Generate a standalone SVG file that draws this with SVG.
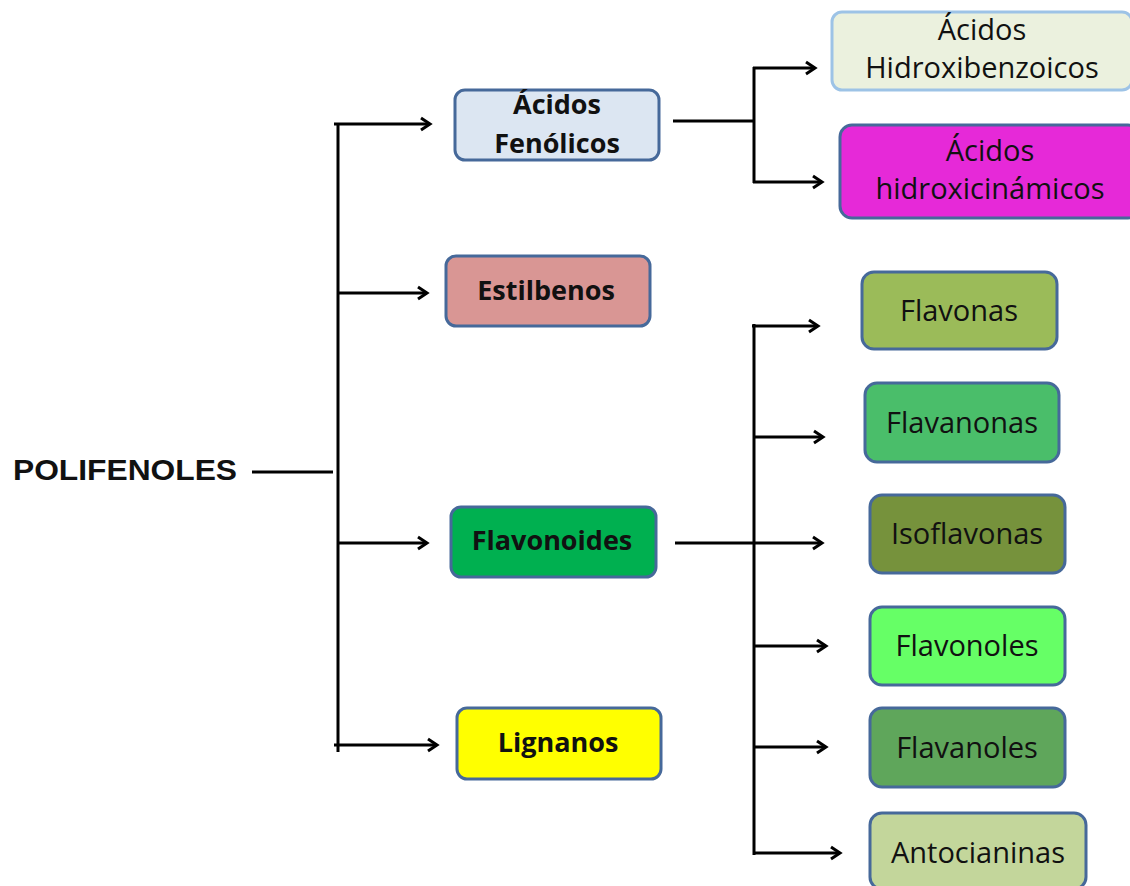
<svg xmlns="http://www.w3.org/2000/svg" width="1130" height="886" viewBox="0 0 1130 886">
<style>
.box{stroke:#46699a;stroke-width:3}
.b{font-family:"Open Sans","Liberation Sans",sans-serif;font-weight:bold;font-size:27px;fill:#111;text-anchor:middle}
.r{font-family:"Open Sans","Liberation Sans",sans-serif;font-size:29px;fill:#111;text-anchor:middle}
.ln{fill:none;stroke:#000;stroke-width:3}
</style>
<defs>
<marker id="arr" markerWidth="14" markerHeight="16" refX="11" refY="8" orient="auto" markerUnits="userSpaceOnUse">
<path d="M2,2 L11,8 L2,14" fill="none" stroke="#000" stroke-width="3"/>
</marker>
</defs>
<rect width="1130" height="886" fill="#fff"/>
<g id="connectors">
<path class="ln" d="M338,123 V752"/>
<path class="ln" d="M252,472 H333"/>
<path class="ln" d="M334,124 H430" marker-end="url(#arr)"/>
<path class="ln" d="M338,293 H427" marker-end="url(#arr)"/>
<path class="ln" d="M338,543 H427" marker-end="url(#arr)"/>
<path class="ln" d="M334,745 H437" marker-end="url(#arr)"/>
<path class="ln" d="M673,121 H754"/>
<path class="ln" d="M754,67 V183"/>
<path class="ln" d="M753,68 H815" marker-end="url(#arr)"/>
<path class="ln" d="M753,182 H822" marker-end="url(#arr)"/>
<path class="ln" d="M675,543 H822" marker-end="url(#arr)"/>
<path class="ln" d="M754,324 V855"/>
<path class="ln" d="M752,326 H818" marker-end="url(#arr)"/>
<path class="ln" d="M754,437 H823" marker-end="url(#arr)"/>
<path class="ln" d="M754,646 H826" marker-end="url(#arr)"/>
<path class="ln" d="M754,747 H826" marker-end="url(#arr)"/>
<path class="ln" d="M754,853 H840" marker-end="url(#arr)"/>
</g>
<g id="polifenoles">
<text x="13" y="480" font-family="Liberation Sans,Arial,sans-serif" font-weight="bold" font-size="30" fill="#111" textLength="224" lengthAdjust="spacingAndGlyphs">POLIFENOLES</text>
</g>
<g id="acidos-fenolicos">
<rect class="box" x="455" y="90" width="204" height="70" rx="10" fill="#dce6f2"/>
<text class="b" x="557" y="114">Ácidos</text>
<text class="b" x="557" y="153">Fenólicos</text>
</g>
<g id="estilbenos">
<rect class="box" x="446" y="256" width="204" height="70" rx="10" fill="#d99694"/>
<text class="b" x="546" y="300">Estilbenos</text>
</g>
<g id="flavonoides">
<rect class="box" x="451" y="507" width="205" height="70" rx="10" fill="#00b050"/>
<text class="b" x="552" y="550">Flavonoides</text>
</g>
<g id="lignanos">
<rect class="box" x="457" y="708" width="204" height="71" rx="10" fill="#ffff00"/>
<text class="b" x="558" y="752">Lignanos</text>
</g>
<g id="acidos-hidroxibenzoicos">
<rect x="832" y="12" width="300" height="78" rx="10" fill="#ebf1de" stroke="#9dc3e6" stroke-width="3"/>
<text class="r" x="982" y="40">Ácidos</text>
<text class="r" x="982" y="78">Hidroxibenzoicos</text>
</g>
<g id="acidos-hidroxicinamicos">
<rect class="box" x="840" y="125" width="300" height="93" rx="12" fill="#e629d8"/>
<text class="r" x="990" y="161">Ácidos</text>
<text class="r" x="990" y="199">hidroxicinámicos</text>
</g>
<g id="flavonas">
<rect class="box" x="862" y="272" width="195" height="77" rx="12" fill="#9bbb59"/>
<text class="r" x="959" y="321">Flavonas</text>
</g>
<g id="flavanonas">
<rect class="box" x="865" y="383" width="194" height="79" rx="12" fill="#4abe6a"/>
<text class="r" x="962" y="433">Flavanonas</text>
</g>
<g id="isoflavonas">
<rect class="box" x="870" y="495" width="195" height="78" rx="12" fill="#76923c"/>
<text class="r" x="967" y="544">Isoflavonas</text>
</g>
<g id="flavonoles">
<rect class="box" x="870" y="607" width="195" height="78" rx="12" fill="#66ff66"/>
<text class="r" x="967" y="656">Flavonoles</text>
</g>
<g id="flavanoles">
<rect class="box" x="870" y="708" width="195" height="79" rx="12" fill="#5fa65b"/>
<text class="r" x="967" y="758">Flavanoles</text>
</g>
<g id="antocianinas">
<rect class="box" x="870" y="813" width="216" height="76" rx="12" fill="#c3d69b"/>
<text class="r" x="978" y="863">Antocianinas</text>
</g>
</svg>
